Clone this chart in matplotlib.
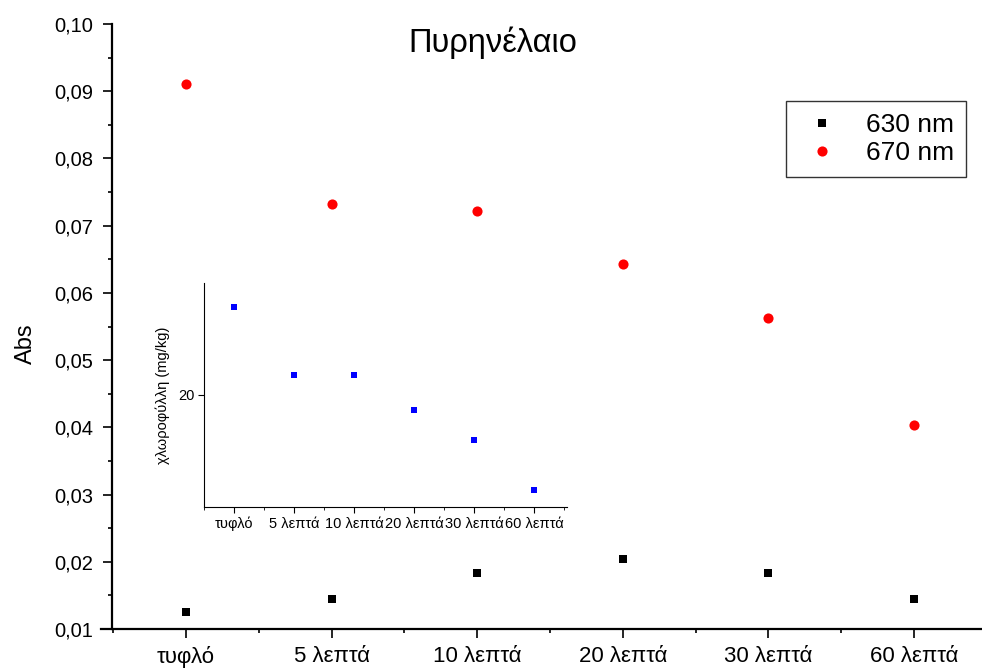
import matplotlib
matplotlib.use("Agg")
import matplotlib.pyplot as plt
from matplotlib.ticker import MultipleLocator, FuncFormatter, FixedLocator

plt.rcParams['font.family'] = ['Liberation Sans', 'DejaVu Sans']

categories = ["τυφλό", "5 λεπτά", "10 λεπτά", "20 λεπτά", "30 λεπτά", "60 λεπτά"]
abs_630 = [0.0125, 0.0145, 0.0183, 0.0204, 0.0183, 0.0145]
abs_670 = [0.0911, 0.0732, 0.0722, 0.0643, 0.0563, 0.0404]
chlorophyll = [28.1, 21.8, 21.8, 18.6, 15.9, 11.3]

x = list(range(1, len(categories) + 1))

fig = plt.figure(figsize=(9.82, 6.68), dpi=100)
ax = fig.add_axes([101 / 982, 39 / 668, 881 / 982, 605 / 668])

ax.plot(x, abs_630, linestyle='none', marker='s', color='black', markersize=6, markeredgewidth=0, label='630 nm')
ax.plot(x, abs_670, linestyle='none', marker='o', color='red', markersize=7.3, markeredgewidth=0, label='670 nm')

ax.set_xlim(0.416, 6.467)
ax.set_ylim(0.01, 0.10)
ax.spines['top'].set_visible(False)
ax.spines['right'].set_visible(False)
ax.spines['left'].set_position(('data', 0.49))
ax.spines['left'].set_bounds(0.01, 0.10)
for s in ('left', 'bottom'):
    ax.spines[s].set_linewidth(1.6)

ax.xaxis.set_major_locator(FixedLocator(x))
ax.xaxis.set_minor_locator(FixedLocator([v - 0.5 for v in x] + [x[-1] + 0.5]))
ax.set_xticklabels(categories)
ax.yaxis.set_major_locator(MultipleLocator(0.01))
ax.yaxis.set_minor_locator(MultipleLocator(0.005))
ax.yaxis.set_major_formatter(FuncFormatter(lambda v, p: f"{v:.2f}".replace('.', ',')))
ax.tick_params(axis='both', which='major', direction='out', length=6.5, width=1.2, pad=7)
ax.tick_params(axis='both', which='minor', direction='out', length=3, width=1.2)
ax.tick_params(axis='y', which='major', labelsize=14.5)
ax.tick_params(axis='x', which='major', labelsize=16, pad=6)

fig.text(26 / 982, 1 - 344 / 668, 'Abs', fontsize=17, rotation=90, ha='center', va='center')
fig.text(493 / 982, 1 - 52 / 668, 'Πυρηνέλαιο', fontsize=23.5, ha='center', va='baseline')

leg = ax.legend(loc='upper left', bbox_to_anchor=(786 / 982, 1 - 101 / 668),
                bbox_transform=fig.transFigure, borderaxespad=0, fontsize=19, frameon=True,
                fancybox=False, edgecolor='black', handletextpad=0.78,
                borderpad=0.45, labelspacing=0.15, handlelength=1.8)
leg.get_frame().set_linewidth(1.0)

# inset
ins = fig.add_axes([204 / 982, 161 / 668, 363 / 982, 224 / 668])
ins.plot(x, chlorophyll, linestyle='none', marker='s', color='#0000ff', markersize=4.2, markeredgewidth=0)
ins.set_xlim(0.5, 6.55)
ins.set_ylim(9.7, 30.3)
ins.spines['top'].set_visible(False)
ins.spines['right'].set_visible(False)
ins.xaxis.set_major_locator(FixedLocator(x))
ins.xaxis.set_minor_locator(FixedLocator([v - 0.5 for v in x] + [x[-1] + 0.5]))
ins.set_xticklabels(categories)
ins.yaxis.set_major_locator(MultipleLocator(20))
ins.tick_params(axis='both', which='major', direction='out', length=4, labelsize=10.5, pad=3)
ins.tick_params(axis='both', which='minor', direction='out', length=2.5)
ins.set_ylabel('χλωροφύλλη (mg/kg)', fontsize=10.5, labelpad=6)

fig.savefig('out.png', dpi=100)
